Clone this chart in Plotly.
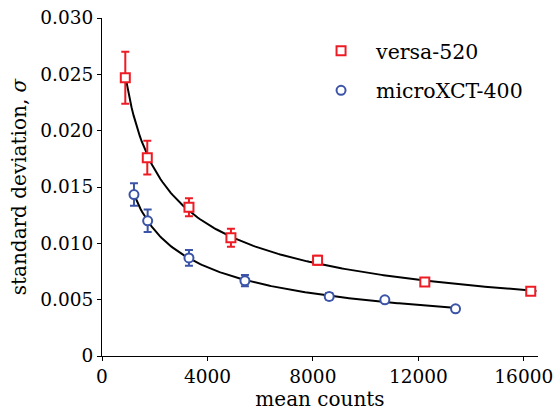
import numpy as np
import plotly.graph_objects as go

# versa-520
versa_x = [884, 1718, 3299, 4891, 8178, 12246, 16265]
versa_y = [0.0247, 0.0176, 0.0132, 0.0105, 0.0085, 0.00656, 0.00575]
versa_err = [0.0023, 0.0015, 0.0008, 0.0008, 0.0004, 0.0003, 0.0002]

# microXCT-400
micro_x = [1213, 1732, 3299, 5422, 8619, 10730, 13412]
micro_y = [0.01433, 0.0120, 0.0087, 0.00668, 0.00529, 0.00499, 0.00419]
micro_err = [0.0010, 0.0010, 0.0007, 0.0005, 0.0003, 0.0002, 0.0002]

x_ticks = [0, 4000, 8000, 12000, 16000]
y_ticks = [0, 0.005, 0.010, 0.015, 0.020, 0.025, 0.030]

RED = "#ED1C24"
BLUE = "#3B54A8"
FONT = "DejaVu Serif"


def power_fit(xs, ys, x_end):
    b, a = np.polyfit(np.log(xs), np.log(ys), 1)
    xx = np.linspace(min(xs), x_end, 200)
    return xx, np.exp(a) * xx ** b


fig = go.Figure()
fx, fy = power_fit(versa_x, versa_y, 16480)
fig.add_trace(go.Scatter(x=fx, y=fy, mode="lines", line=dict(color="black", width=2),
                         showlegend=False, hoverinfo="skip"))
fx, fy = power_fit(micro_x, micro_y, max(micro_x))
fig.add_trace(go.Scatter(x=fx, y=fy, mode="lines", line=dict(color="black", width=2),
                         showlegend=False, hoverinfo="skip"))

fig.add_trace(go.Scatter(
    x=versa_x, y=versa_y, mode="markers", name="versa-520", legendgroup="a",
    marker=dict(symbol="square", size=9, color="white", line=dict(color=RED, width=2)),
    error_y=dict(type="data", array=versa_err, color=RED, thickness=2, width=4)))
fig.add_trace(go.Scatter(
    x=micro_x, y=micro_y, mode="markers", name="microXCT-400", legendgroup="b",
    marker=dict(symbol="circle", size=9, color="white", line=dict(color=BLUE, width=2)),
    error_y=dict(type="data", array=micro_err, color=BLUE, thickness=2, width=4)))

fig.update_layout(
    width=558, height=414,
    margin=dict(l=102, r=20, t=18, b=58),
    plot_bgcolor="white", paper_bgcolor="white",
    font=dict(family=FONT, size=19, color="black"),
    legend=dict(x=0.468, y=0.962, xanchor="left", yanchor="top",
                bgcolor="rgba(0,0,0,0)", itemwidth=60, tracegroupgap=10,
                font=dict(family=FONT, size=20.5)),
    xaxis=dict(range=[0, 16540], tickvals=x_ticks, ticktext=[str(v) for v in x_ticks],
               showgrid=False, zeroline=False, showline=True, linecolor="black", linewidth=1,
               ticks="outside", ticklen=4, tickcolor="black", automargin=False,
               tickfont=dict(family=FONT, size=18.5),
               title=dict(text="mean counts", standoff=3, font=dict(family=FONT, size=20))),
    yaxis=dict(range=[0, 0.030], tickvals=y_ticks,
               ticktext=["0", "0.005", "0.010", "0.015", "0.020", "0.025", "0.030"],
               showgrid=False, zeroline=False, showline=True, linecolor="black", linewidth=1,
               ticks="outside", ticklen=4, tickcolor="black", automargin=False,
               tickfont=dict(family=FONT, size=18.5),
               title=dict(text="standard deviation, <i>σ</i>", standoff=8,
                          font=dict(family=FONT, size=20))),
)

fig.write_html("out.html")
